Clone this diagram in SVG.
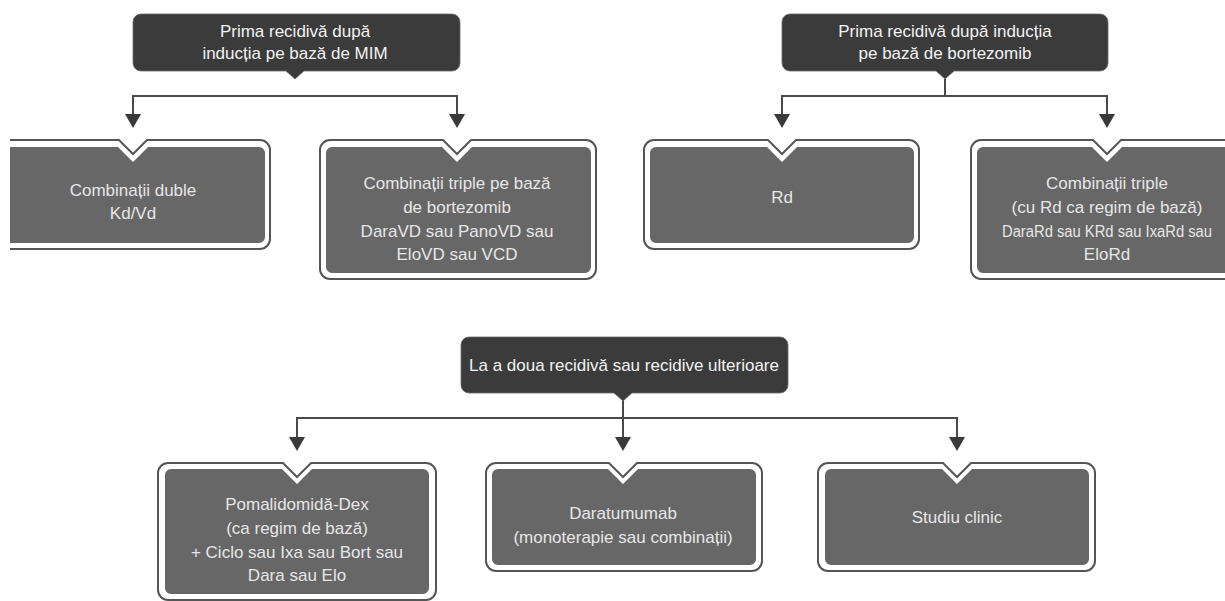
<svg xmlns="http://www.w3.org/2000/svg" width="1225" height="601" viewBox="0 0 1225 601">
  <style>
    .hdr { fill: #3b3b3b; stroke: #6a6a6a; stroke-width: 0.8; }
    .outer { fill: #ffffff; stroke: #555555; stroke-width: 2; }
    .inner { fill: #676767; }
    .conn { fill: none; stroke: #4a4a4a; stroke-width: 2; }
    text { font-family: "Liberation Sans", Arial, sans-serif; font-size: 17px; text-anchor: middle; }
    .ht { fill: #f2f2f2; }
    .bt { fill: #e6e6e6; }
  </style>
  <defs>
    <marker id="arr" markerUnits="userSpaceOnUse" viewBox="0 0 14 16" markerWidth="14" markerHeight="16" refX="6" refY="8" orient="auto">
      <path d="M0,0 L14,8 L0,16 Z" fill="#3a3a3a"/>
    </marker>
    <clipPath id="clipL">
      <rect x="10" y="0" width="1215" height="601"/>
    </clipPath>
  </defs>
  <rect width="1225" height="601" fill="#ffffff"/>

  <g id="connectors">
    <path class="conn" d="M295,96 H133 V120" marker-end="url(#arr)"/>
    <path class="conn" d="M295,96 H457 V120" marker-end="url(#arr)"/>
    <path class="conn" d="M945,79 V96 H782 V120" marker-end="url(#arr)"/>
    <path class="conn" d="M945,96 H1107 V120" marker-end="url(#arr)"/>
    <path class="conn" d="M623,400 V443" marker-end="url(#arr)"/>
    <path class="conn" d="M623,418 H297 V443" marker-end="url(#arr)"/>
    <path class="conn" d="M623,418 H957 V443" marker-end="url(#arr)"/>
  </g>

  <g id="header-mim">
    <path class="hdr" d="M141,14 H452 A8,8 0 0 1 460,22 V63 A8,8 0 0 1 452,71 H304 L295,79 L286,71 H141 A8,8 0 0 1 133,63 V22 A8,8 0 0 1 141,14 Z"/>
    <text class="ht" x="295" y="37">Prima recidivă după</text>
    <text class="ht" x="295" y="59">inducția pe bază de MIM</text>
  </g>

  <g id="header-bortezomib">
    <path class="hdr" d="M790,14 H1100 A8,8 0 0 1 1108,22 V63 A8,8 0 0 1 1100,71 H954 L945,79 L936,71 H790 A8,8 0 0 1 782,63 V22 A8,8 0 0 1 790,14 Z"/>
    <text class="ht" x="945" y="37">Prima recidivă după inducția</text>
    <text class="ht" x="945" y="59">pe bază de bortezomib</text>
  </g>

  <g id="header-second">
    <path class="hdr" d="M469,337 H780 A8,8 0 0 1 788,345 V385 A8,8 0 0 1 780,393 H632 L623,401 L614,393 H469 A8,8 0 0 1 461,385 V345 A8,8 0 0 1 469,337 Z"/>
    <text class="ht" x="624" y="371">La a doua recidivă sau recidive ulterioare</text>
  </g>

  <g id="box-duble">
    <g clip-path="url(#clipL)">
      <path class="outer" d="M5,140 H119 L133,154 L147,140 H260 A10,10 0 0 1 270,150 V239 A10,10 0 0 1 260,249 H5 A10,10 0 0 1 -5,239 V150 A10,10 0 0 1 5,140 Z"/>
      <path class="inner" d="M2,147 H118 L133,162 L148,147 H259 A6,6 0 0 1 265,153 V237 A6,6 0 0 1 259,243 H2 A6,6 0 0 1 -4,237 V153 A6,6 0 0 1 2,147 Z"/>
    </g>
    <text class="bt" x="133" y="196">Combinații duble</text>
    <text class="bt" x="133" y="219">Kd/Vd</text>
  </g>

  <g id="box-triple-bort">
    <path class="outer" d="M330,140 H443 L457,154 L471,140 H586 A10,10 0 0 1 596,150 V269 A10,10 0 0 1 586,279 H330 A10,10 0 0 1 320,269 V150 A10,10 0 0 1 330,140 Z"/>
    <path class="inner" d="M332,147 H442 L457,162 L472,147 H585 A6,6 0 0 1 591,153 V267 A6,6 0 0 1 585,273 H332 A6,6 0 0 1 326,267 V153 A6,6 0 0 1 332,147 Z"/>
    <text class="bt" x="457" y="189">Combinații triple pe bază</text>
    <text class="bt" x="457" y="213">de bortezomib</text>
    <text class="bt" x="457" y="237">DaraVD sau PanoVD sau</text>
    <text class="bt" x="457" y="260">EloVD sau VCD</text>
  </g>

  <g id="box-rd">
    <path class="outer" d="M654,140 H768 L782,154 L796,140 H909 A10,10 0 0 1 919,150 V239 A10,10 0 0 1 909,249 H654 A10,10 0 0 1 644,239 V150 A10,10 0 0 1 654,140 Z"/>
    <path class="inner" d="M656,147 H767 L782,162 L797,147 H908 A6,6 0 0 1 914,153 V237 A6,6 0 0 1 908,243 H656 A6,6 0 0 1 650,237 V153 A6,6 0 0 1 656,147 Z"/>
    <text class="bt" x="782" y="203">Rd</text>
  </g>

  <g id="box-triple-rd">
    <path class="outer" d="M981,140 H1093 L1107,154 L1121,140 H1233 A10,10 0 0 1 1243,150 V269 A10,10 0 0 1 1233,279 H981 A10,10 0 0 1 971,269 V150 A10,10 0 0 1 981,140 Z"/>
    <path class="inner" d="M983,147 H1092 L1107,162 L1122,147 H1231 A6,6 0 0 1 1237,153 V267 A6,6 0 0 1 1231,273 H983 A6,6 0 0 1 977,267 V153 A6,6 0 0 1 983,147 Z"/>
    <text class="bt" x="1107" y="189">Combinații triple</text>
    <text class="bt" x="1107" y="213">(cu Rd ca regim de bază)</text>
    <text class="bt" x="1107" y="237" style="font-size:16px" textLength="210" lengthAdjust="spacingAndGlyphs">DaraRd sau KRd sau IxaRd sau</text>
    <text class="bt" x="1107" y="260">EloRd</text>
  </g>

  <g id="box-pomalidomida">
    <path class="outer" d="M168,463 H283 L297,477 L311,463 H426 A10,10 0 0 1 436,473 V590 A10,10 0 0 1 426,600 H168 A10,10 0 0 1 158,590 V473 A10,10 0 0 1 168,463 Z"/>
    <path class="inner" d="M171,469 H282 L297,484 L312,469 H423 A6,6 0 0 1 429,475 V588 A6,6 0 0 1 423,594 H171 A6,6 0 0 1 165,588 V475 A6,6 0 0 1 171,469 Z"/>
    <text class="bt" x="297" y="510">Pomalidomidă-Dex</text>
    <text class="bt" x="297" y="534">(ca regim de bază)</text>
    <text class="bt" x="297" y="558">+ Ciclo sau Ixa sau Bort sau</text>
    <text class="bt" x="297" y="581">Dara sau Elo</text>
  </g>

  <g id="box-daratumumab">
    <path class="outer" d="M496,463 H609 L623,477 L637,463 H752 A10,10 0 0 1 762,473 V561 A10,10 0 0 1 752,571 H496 A10,10 0 0 1 486,561 V473 A10,10 0 0 1 496,463 Z"/>
    <path class="inner" d="M498,469 H608 L623,484 L638,469 H750 A6,6 0 0 1 756,475 V559 A6,6 0 0 1 750,565 H498 A6,6 0 0 1 492,559 V475 A6,6 0 0 1 498,469 Z"/>
    <text class="bt" x="623" y="519">Daratumumab</text>
    <text class="bt" x="623" y="543">(monoterapie sau combinații)</text>
  </g>

  <g id="box-studiu">
    <path class="outer" d="M828,463 H943 L957,477 L971,463 H1085 A10,10 0 0 1 1095,473 V561 A10,10 0 0 1 1085,571 H828 A10,10 0 0 1 818,561 V473 A10,10 0 0 1 828,463 Z"/>
    <path class="inner" d="M831,469 H942 L957,484 L972,469 H1083 A6,6 0 0 1 1089,475 V559 A6,6 0 0 1 1083,565 H831 A6,6 0 0 1 825,559 V475 A6,6 0 0 1 831,469 Z"/>
    <text class="bt" x="957" y="523">Studiu clinic</text>
  </g>
</svg>
